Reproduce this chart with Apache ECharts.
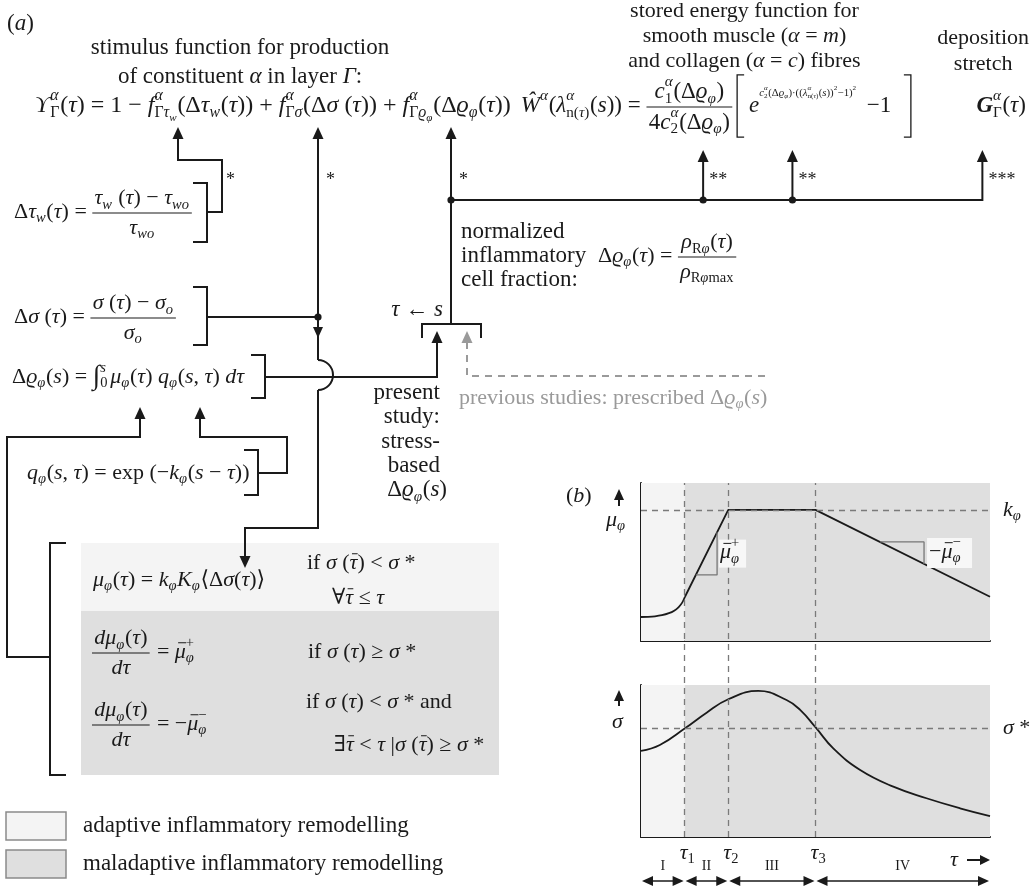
<!DOCTYPE html>
<html>
<head>
<meta charset="utf-8">
<script src="https://cdn.jsdelivr.net/npm/echarts@6/dist/echarts.min.js"></script>
<style>
  html, body { margin: 0; padding: 0; background: #fff; }
  #main { width: 1033px; height: 886px; }
</style>
</head>
<body>
<div id="main"></div>
<script>
// ---- panel (b) data (time axis and values in arbitrary units, 0..100) ----
const tauBounds = [0, 12.5, 25, 50, 100];      // 0, tau1, tau2, tau3, end
const tauNames = ['1', '2', '3'];
const phaseNames = ['I', 'II', 'III', 'IV'];

const muX = [0, 2, 4, 6, 8, 9.5, 10.8, 11.8, 12.6, 25, 50, 100];
const muY = [15.2, 15.3, 15.6, 16.3, 17.6, 19.2, 21.5, 24.3, 28, 83, 83, 28];

const sigmaX = [0, 5.4, 12.6, 18.8, 25, 33.6, 41.7, 45.6, 50.1, 55.1, 62.8, 72.3, 81.8, 91.4, 100];
const sigmaY = [56.6, 60.5, 71.5, 81.8, 90.6, 96.1, 90.1, 83.6, 71.9, 58.3, 44.1, 33.1, 25.5, 18.9, 13.8];

const kPhi = 83;
const sigmaStar = 71.7;

const slopeUpX = [15.7, 21.8, 21.8];
const slopeUpY = [41.8, 41.8, 68.8];
const slopeDownX = [68.5, 81.1, 81.1];
const slopeDownY = [62.7, 62.7, 48.8];

// ---- drawing helpers ----
const FF = '"Liberation Serif","DejaVu Serif",serif';
const INK = '#1a1a1a';
const GREY = '#9a9a9a';
const LIGHT = '#f4f4f4';
const DARK = '#dfdfdf';
const G = [];        // graphic elements
const marks = {};    // x positions recorded inside formulas

const cv = document.createElement('canvas').getContext('2d');
function textW(t, fs, it, bd) {
    cv.font = (it ? 'italic ' : '') + (bd ? 'bold ' : '') + fs + 'px ' + FF;
    return cv.measureText(t).width;
}
function T(x, y, text, fs, o) {
    o = o || {};
    return {
        type: 'text', x: x, y: y, z: o.z || 10, silent: true,
        style: {
            text: text, fill: o.color || INK, fontSize: fs, fontFamily: FF,
            fontStyle: o.it ? 'italic' : 'normal', fontWeight: o.b ? 'bold' : 'normal',
            align: o.align || 'left', verticalAlign: 'middle',
            textAlign: o.align || 'left', textVerticalAlign: 'middle'
        }
    };
}
function LINE(pts, w, col, dash) {
    const st = { stroke: col || INK, lineWidth: w || 2, fill: 'none' };
    if (dash) st.lineDash = dash;
    return { type: 'polyline', silent: true, z: 8, shape: { points: pts }, style: st };
}
function ARROW(x, y, dir, col, len, half) {
    len = len || 12; half = half || 5.5;
    let p;
    if (dir === 'up') p = [[x, y], [x - half, y + len], [x + half, y + len]];
    else if (dir === 'down') p = [[x, y], [x - half, y - len], [x + half, y - len]];
    else if (dir === 'left') p = [[x, y], [x + len, y - half], [x + len, y + half]];
    else p = [[x, y], [x - len, y - half], [x - len, y + half]];
    return { type: 'polygon', silent: true, z: 9, shape: { points: p }, style: { fill: col || INK } };
}
function DOT(x, y) {
    return { type: 'circle', silent: true, z: 9, shape: { cx: x, cy: y, r: 3.6 }, style: { fill: INK } };
}
function RECT(x, y, w, h, fill, stroke, z) {
    const st = { fill: fill };
    if (stroke) { st.stroke = stroke; st.lineWidth = 1.5; }
    return { type: 'rect', silent: true, z: z || 1, shape: { x: x, y: y, width: w, height: h }, style: st };
}
// "]" (side 'r') or "[" (side 'l') bracket
function BRK(x, y1, y2, side, stub) {
    stub = stub || 14;
    const d = side === 'r' ? -stub : stub;
    return LINE([[x + d, y1], [x, y1], [x, y2], [x + d, y2]]);
}

// tiny formula typesetter
const R = t => ({ t: t });
const I = t => ({ t: t, it: true });
const IB = t => ({ t: t, it: true, bar: true });
const SS = (sup, sub) => ({ ss: true, sup: sup, sub: sub });
const SUP = a => ({ ss: true, sup: a });
const SUB = a => ({ ss: true, sub: a });
const FR = (num, den) => ({ fr: true, num: num, den: den });
const MK = name => ({ mk: name });
const BRT = side => ({ br: side });
const RUN = (a, s, dy) => ({ run: a, s: s, dy: dy });
const GAP = g => ({ gap: g });

function lay(tokens, x, y, S, col, out) {
    let cx = x;
    for (let k of tokens) {
        if (typeof k === 'string') k = { t: k };
        if (k.mk) { if (out) marks[k.mk] = cx; continue; }
        if (k.gap) { cx += k.gap * S; continue; }
        if (k.ss) {
            const a = k.sup ? lay(k.sup, cx, y - S * 0.42, S * 0.66, col, out) : 0;
            const b = k.sub ? lay(k.sub, cx, y + S * 0.3, S * 0.66, col, out) : 0;
            cx += Math.max(a, b) + S * 0.03;
            continue;
        }
        if (k.run) { cx += lay(k.run, cx, y + k.dy * S, S * k.s, col, out); continue; }
        if (k.fr) {
            const wn = lay(k.num, 0, 0, S, col, null);
            const wd = lay(k.den, 0, 0, S, col, null);
            const w = Math.max(wn, wd) + S * 0.2;
            if (out) {
                lay(k.num, cx + (w - wn) / 2, y - S * 0.62, S, col, out);
                lay(k.den, cx + (w - wd) / 2, y + S * 0.72, S, col, out);
                out.push(LINE([[cx, y + 1], [cx + w, y + 1]], 1.1, col));
            }
            cx += w + S * 0.08;
            continue;
        }
        if (k.br) {
            if (out) {
                const h = S * 1.35;
                const xx = k.br === '[' ? cx + 3 : cx + S * 0.4;
                const d = k.br === '[' ? 7 : -7;
                out.push(LINE([[xx + d, y - h], [xx, y - h], [xx, y + h], [xx + d, y + h]], 1.3, col));
            }
            cx += S * 0.5;
            continue;
        }
        const fs = S * (k.s || 1);
        const w = textW(k.t, fs, k.it, k.b);
        if (out) {
            out.push(T(cx, y + (k.dy || 0) * S, k.t, fs, { it: k.it, b: k.b, color: col }));
            if (k.bar) out.push(LINE([[cx + w * 0.3, y - fs * 0.42], [cx + w * 1.02, y - fs * 0.42]], 1, col));
        }
        cx += w;
    }
    return cx - x;
}
function put(tokens, x, y, S, o) {
    o = o || {};
    const w = lay(tokens, 0, 0, S, null, null);
    const x0 = o.align === 'center' ? x - w / 2 : (o.align === 'right' ? x - w : x);
    lay(tokens, x0, y, S, o.color || INK, G);
    return { x: x0, w: w };
}

// ---------------- panel (a) ----------------
const S = 23;     // prose
const SE = 24;    // stimulus formula
const SW = 23;    // stored energy formula and deposition stretch
const SL = 22;    // left-hand formulas
const SC = 22;    // conditions
const ST = 22;    // top-right captions

// box backgrounds first (drawn under everything)
G.push(RECT(81, 543, 418, 68, LIGHT));
G.push(RECT(81, 611, 418, 164, DARK));

put([R('('), I('a'), R(')')], 7, 24, S);
put([R('stimulus function for production')], 240, 48, S, { align: 'center' });
put([R('of constituent '), I('α'), R(' in layer '), I('Γ'), R(':')], 240, 77, S, { align: 'center' });

const eqMain = [
    I('ϒ'), SS([I('α')], [R('Γ')]), R('('), I('τ'), R(') = 1 − '),
    I('f'), SS([I('α')], [R('Γ'), I('τ'), { t: 'w', it: true, s: 0.7, dy: 0.3 }]),
    R('(Δ'), I('τ'), SUB([I('w')]), R('('), I('τ'), R(')) + '),
    I('f'), SS([I('α')], [R('Γ'), I('σ')]), R('(Δ'), I('σ'), R(' ('), I('τ'), R(')) + '),
    I('f'), SS([I('α')], [R('Γ'), I('ϱ'), { t: 'φ', it: true, s: 0.7, dy: 0.3 }]),
    R('(Δ'), I('ϱ'), SUB([I('φ')]), R('('), I('τ'), R('))')
];
const EQY = 106;
const mainBox = put(eqMain, 35, EQY, SE);

const lamN = [R('n('), I('τ'), R(')')];
const eqW = [
    I('Ŵ'), SUP([I('α')]), R('('), I('λ'), SS([I('α')], lamN), R('('), I('s'), R(')) = '),
    FR([I('c'), SS([I('α')], [R('1')]), R('(Δ'), I('ϱ'), SUB([I('φ')]), R(')')],
       [R('4'), I('c'), SS([I('α')], [R('2')]), MK('den'), R('(Δ'), I('ϱ'), SUB([I('φ')]), R(')')]),
    BRT('['), GAP(0.15), I('e'),
    RUN([I('c'), SS([I('α')], [R('2')]), R('(Δ'), I('ϱ'), SUB([I('φ')]), MK('exp'), R(')·(('), I('λ'),
         SS([I('α')], lamN), R('('), I('s'), R('))'), SUP([R('2')]), R('−1)'), SUP([R('2')])], 0.47, -0.56),
    GAP(0.45), R('−1'), GAP(0.45), BRT(']')
];
const wBox = put(eqW, mainBox.x + mainBox.w + 10, EQY, SW);
const eqG = [{ t: 'G', it: true, b: true }, SS([I('α')], [R('Γ')]), R('('), I('τ'), R(')')];
const gBox = put(eqG, 1026 - lay(eqG, 0, 0, SW, null, null), EQY, SW);

const cW = wBox.x + wBox.w * 0.57;
put([R('stored energy function for')], cW, 11, ST, { align: 'center' });
put([R('smooth muscle ('), I('α'), R(' = '), I('m'), R(')')], cW, 36, ST, { align: 'center' });
put([R('and collagen ('), I('α'), R(' = '), I('c'), R(') fibres')], cW, 61, ST, { align: 'center' });
const dep = put([R('deposition')], 1029, 38, ST, { align: 'right' });
put([R('stretch')], dep.x + dep.w / 2, 64, ST, { align: 'center' });

// left-hand definitions
put([R('Δ'), I('τ'), SUB([I('w')]), R('('), I('τ'), R(') = '),
     FR([I('τ'), SUB([I('w')]), R(' ('), I('τ'), R(') − '), I('τ'), SUB([I('wo')])], [I('τ'), SUB([I('wo')])])], 14, 212, SL);
put([R('Δ'), I('σ'), R(' ('), I('τ'), R(') = '),
     FR([I('σ'), R(' ('), I('τ'), R(') − '), I('σ'), SUB([I('o')])], [I('σ'), SUB([I('o')])])], 14, 317, SL);
put([R('Δ'), I('ϱ'), SUB([I('φ')]), R('('), I('s'), R(') = '), { t: '∫', s: 1.25 }, SS([I('s')], [R('0')]), GAP(0.1),
     I('μ'), SUB([I('φ')]), R('('), I('τ'), R(') '), I('q'), SUB([I('φ')]), R('('), I('s'), R(', '), I('τ'), R(') '),
     I('d'), I('τ')], 12, 377, SL);
put([I('q'), SUB([I('φ')]), R('('), I('s'), R(', '), I('τ'), R(') = exp (−'), I('k'), SUB([I('φ')]),
     R('('), I('s'), R(' − '), I('τ'), R('))')], 27, 473, SL);

// remodelling rules box
const dmu = FR([I('d'), I('μ'), SUB([I('φ')]), R('('), I('τ'), R(')')], [I('d'), I('τ')]);
put([I('μ'), SUB([I('φ')]), R('('), I('τ'), R(') = '), I('k'), SUB([I('φ')]), I('K'), SUB([I('φ')]),
     R('⟨Δ'), I('σ'), R('('), I('τ'), R(')⟩')], 93, 580, SL);
put([R('if '), I('σ'), R(' ('), IB('τ'), R(') < '), I('σ'), R(' *')], 307, 563, SC);
put([R('∀'), IB('τ'), R(' ≤ '), I('τ')], 332, 598, SC);
put([dmu, R(' = '), IB('μ'), SS([R('+')], [I('φ')])], 92, 652, SL);
put([R('if '), I('σ'), R(' ('), I('τ'), R(') ≥ '), I('σ'), R(' *')], 308, 652, SC);
put([dmu, R(' = −'), IB('μ'), SS([R('−')], [I('φ')])], 92, 724, SL);
put([R('if '), I('σ'), R(' ('), I('τ'), R(') < '), I('σ'), R(' * and')], 306, 702, SC);
put([R('∃'), IB('τ'), R(' < '), I('τ'), R(' |'), I('σ'), R(' ('), IB('τ'), R(') ≥ '), I('σ'), R(' *')], 334, 745, SC);

// inflammatory cell fraction
put([R('normalized')], 461, 232, S);
put([R('inflammatory')], 461, 256, S);
put([R('cell fraction:')], 461, 280, S);
put([R('Δ'), I('ϱ'), SUB([I('φ')]), R('('), I('τ'), R(') = '),
     FR([I('ρ'), SUB([R('R'), I('φ')]), R('('), I('τ'), R(')')], [I('ρ'), SUB([R('R'), I('φ'), R('max')])])], 598, 256, SL);

put([I('τ'), R(' ← '), I('s')], 443, 310, S, { align: 'right' });
['present', 'study:', 'stress-', 'based'].forEach((s, i) => put([R(s)], 440, 393 + i * 24.3, S, { align: 'right' }));
put([R('Δ'), I('ϱ'), SUB([I('φ')]), R('('), I('s'), R(')')], 447, 490, S, { align: 'right' });
put([R('previous studies: prescribed Δ'), I('ϱ'), SUB([I('φ')]), R('('), I('s'), R(')')], 459, 398, 22, { color: GREY });

// legend
G.push(RECT(6, 812, 60, 28, LIGHT, '#8a8a8a'));
G.push(RECT(6, 850, 60, 28, DARK, '#8a8a8a'));
put([R('adaptive inflammatory remodelling')], 83, 826, S);
put([R('maladaptive inflammatory remodelling')], 83, 864, S);

// connectors of panel (a)
const A1 = 178, A2 = 318, A3 = 451, TIP = 127;
G.push(BRK(207, 183, 242, 'r'));
G.push(LINE([[207, 212], [222, 212], [222, 160], [A1, 160], [A1, TIP + 8]]));
G.push(ARROW(A1, TIP, 'up'));
G.push(T(226, 180, '*', 18));

G.push(BRK(207, 287, 345, 'r'));
G.push(LINE([[207, 317], [A2, 317]]));
G.push(DOT(A2, 317));
G.push(LINE([[A2, TIP + 8], [A2, 360]]));
G.push(ARROW(A2, TIP, 'up'));
G.push(ARROW(A2, 338, 'down', INK, 11, 5));
G.push({ type: 'arc', silent: true, z: 8, shape: { cx: A2, cy: 375, r: 15, startAngle: -Math.PI / 2, endAngle: Math.PI / 2, clockwise: true },
         style: { stroke: INK, lineWidth: 2, fill: 'none' } });
G.push(LINE([[A2, 390], [A2, 528], [245, 528], [245, 560]]));
G.push(ARROW(245, 568, 'down'));
G.push(T(326, 180, '*', 18));

G.push(BRK(265, 355, 398, 'r'));
G.push(LINE([[265, 377], [437, 377], [437, 340]]));
G.push(ARROW(437, 331, 'up'));
G.push(LINE([[422, 338], [422, 324], [481, 324], [481, 338]]));
G.push(LINE([[A3, 324], [A3, TIP + 8]]));
G.push(ARROW(A3, TIP, 'up'));
G.push(DOT(A3, 200));
G.push(T(459, 180, '*', 18));
G.push(LINE([[467, 342], [467, 376], [765, 376]], 2, GREY, [7, 6]));
G.push(ARROW(467, 331, 'up', GREY));

// branch to the stored energy function and deposition stretch
const X1 = marks.den + 24, X2 = marks.exp + 4, XG = gBox.x + 6, RT = 150;
G.push(LINE([[A3, 200], [XG, 200], [XG, RT + 8]]));
G.push(ARROW(XG, RT, 'up'));
[X1, X2].forEach(x => {
    G.push(LINE([[x, 200], [x, RT + 8]]));
    G.push(ARROW(x, RT, 'up'));
    G.push(DOT(x, 200));
    G.push(T(x + 6, 180, '**', 18));
});
G.push(T(XG + 6, 180, '***', 18));

// integral inputs
G.push(BRK(258, 450, 495, 'r'));
G.push(LINE([[258, 473], [287, 473], [287, 437], [200, 437], [200, 414]]));
G.push(ARROW(200, 407, 'up'));
G.push(BRK(50, 543, 775, 'l', 16));
G.push(LINE([[50, 657], [7, 657], [7, 437], [140, 437], [140, 414]]));
G.push(ARROW(140, 407, 'up'));

// ---------------- panel (b) chart ----------------
const chart = echarts.init(document.getElementById('main'));
const zip = (xs, ys) => xs.map((v, i) => [v, ys[i]]);
const muPts = zip(muX, muY);

const axis = (gi, show) => ({
    type: 'value', gridIndex: gi, min: 0, max: 100, show: show,
    axisLine: { show: true, onZero: false, lineStyle: { color: INK, width: 2 } },
    axisTick: { show: false }, axisLabel: { show: false }, splitLine: { show: false }
});
const bgArea = {
    silent: true,
    data: [
        [{ xAxis: tauBounds[0], itemStyle: { color: LIGHT } }, { xAxis: tauBounds[1] }],
        [{ xAxis: tauBounds[1], itemStyle: { color: DARK } }, { xAxis: tauBounds[4] }]
    ]
};
const dashStyle = { type: [6, 5], color: '#7a7a7a', width: 1.3 };
const helper = (xi, z, extra) => Object.assign({
    type: 'line', xAxisIndex: xi, yAxisIndex: xi, data: [[0, 0]], showSymbol: false,
    lineStyle: { opacity: 0 }, z: z, silent: true
}, extra);
const hLine = v => ({ silent: true, symbol: ['none', 'none'], label: { show: false }, lineStyle: dashStyle, data: [{ yAxis: v }] });
const curve = (xi, data, smooth, color, width) => ({
    type: 'line', xAxisIndex: xi, yAxisIndex: xi, data: data, showSymbol: false, symbol: 'none',
    smooth: smooth, z: 3, silent: true,
    lineStyle: { color: color, width: width }
});

chart.setOption({
    animation: false,
    backgroundColor: '#fff',
    grid: [
        { left: 641, top: 483, width: 349, height: 158 },
        { left: 641, top: 685, width: 349, height: 152 },
        { left: 641, top: 483, width: 349, height: 354 }
    ],
    xAxis: [axis(0, true), axis(1, true), axis(2, false)],
    yAxis: [axis(0, true), axis(1, true), axis(2, false)],
    series: [
        helper(0, 0, { markArea: bgArea }),
        helper(1, 0, { markArea: bgArea }),
        helper(2, 1, { markLine: { silent: true, symbol: ['none', 'none'], label: { show: false }, lineStyle: dashStyle,
                                    data: tauBounds.slice(1, 4).map(v => ({ xAxis: v })) } }),
        helper(0, 1, { markLine: hLine(kPhi) }),
        helper(1, 1, { markLine: hLine(sigmaStar) }),
        curve(0, muPts.slice(0, 9), 0.3, INK, 1.8),
        curve(0, muPts.slice(8), false, INK, 1.8),
        curve(1, zip(sigmaX, sigmaY), 0.45, INK, 1.8),
        curve(0, zip(slopeUpX, slopeUpY), false, '#777', 1.3),
        curve(0, zip(slopeDownX, slopeDownY), false, '#777', 1.3)
    ]
});

const p0 = (x, y) => chart.convertToPixel({ gridIndex: 0 }, [x, y]);
const p1 = (x, y) => chart.convertToPixel({ gridIndex: 1 }, [x, y]);
const SB = 22;

put([R('('), I('b'), R(')')], 566, 496, SB);
G.push(LINE([[619, 506], [619, 498]]));
G.push(ARROW(619, 489, 'up', INK, 11, 5));
put([I('μ'), SUB([I('φ')])], 606, 520, SB);
put([I('k'), SUB([I('φ')])], 1003, p0(0, kPhi)[1], SB);
G.push(LINE([[619, 706], [619, 699]]));
G.push(ARROW(619, 690, 'up', INK, 11, 5));
put([I('σ')], 612, 722, SB);
put([I('σ'), R(' *')], 1003, p1(0, sigmaStar)[1], SB);

// slope labels
const upX = p0(slopeUpX[1], 0)[0] + 2;
const upY = (p0(0, slopeUpY[0])[1] + p0(0, slopeUpY[2])[1]) / 2;
G.push(RECT(upX, upY - 14, 27, 28, '#f7f7f7', null, 5));
put([IB('μ'), SS([R('+')], [I('φ')])], upX + 1, upY - 1, SB);
const dnX = p0(slopeDownX[1], 0)[0] + 3;
const dnY = (p0(0, slopeDownY[0])[1] + p0(0, slopeDownY[2])[1]) / 2;
G.push(RECT(dnX, dnY - 15, 45, 30, '#f7f7f7', null, 5));
put([R('−'), IB('μ'), SS([R('−')], [I('φ')])], dnX + 2, dnY - 1, SB);

// tau labels, phases and double arrows under the time axis
const tw = textW('τ', SB, true);
tauNames.forEach((n, i) => {
    const x = p1(tauBounds[i + 1], 0)[0];
    put([I('τ'), SUB([R(n)])], x - tw / 2 - 1, 853, SB);
});
put([I('τ')], 950, 860, SB);
G.push(LINE([[967, 860], [980, 860]], 2));
G.push(ARROW(990, 860, 'right', INK, 10, 5));
phaseNames.forEach((n, i) => {
    const a = p1(tauBounds[i], 0)[0], b = p1(tauBounds[i + 1], 0)[0];
    put([R(n)], (a + b) / 2, 866, 14, { align: 'center' });
    G.push(LINE([[a + 4, 881], [b - 4, 881]], 1.5));
    G.push(ARROW(a + 1, 881, 'left', INK, 11, 5));
    G.push(ARROW(b - 1, 881, 'right', INK, 11, 5));
});

chart.setOption({ graphic: { elements: G } });
</script>
</body>
</html>
